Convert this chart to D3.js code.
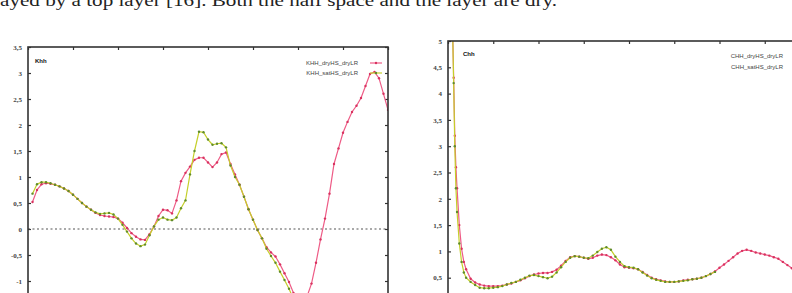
<!DOCTYPE html>
<html>
<head>
<meta charset="utf-8">
<script src="https://cdn.jsdelivr.net/npm/d3@7"></script>
<style>
  html, body { margin: 0; padding: 0; background: #fff; overflow: hidden; }
  svg { display: block; }
</style>
</head>
<body>
<script>
// frequency steps (Hz) for the Khh panel
const khhFreq = d3.range(1, 81);
const khhDry = [
  0.52, 0.75, 0.86, 0.88, 0.87, 0.85, 0.82, 0.78, 0.73, 0.66,
  0.58, 0.50, 0.43, 0.37, 0.31, 0.27, 0.25, 0.24, 0.23, 0.20,
  0.12, 0.02, -0.08, -0.15, -0.20, -0.21, -0.10, 0.05, 0.25, 0.37,
  0.36, 0.30, 0.55, 0.92, 1.08, 1.20, 1.33, 1.37, 1.37, 1.28,
  1.19, 1.28, 1.44, 1.47, 1.25, 1.05, 0.85, 0.62, 0.38, 0.18,
  -0.02, -0.18, -0.35, -0.45, -0.53, -0.68, -0.85, -1.02, -1.23, -1.40,
  -1.45, -1.30, -1.05, -0.65, -0.20, 0.20, 0.68, 1.25, 1.55, 1.85,
  2.06, 2.25, 2.37, 2.52, 2.75, 2.98, 3.02, 2.90, 2.60, 2.29
];
const khhSatFreq = d3.range(1, 61);
const khhSat = [
  0.68, 0.86, 0.90, 0.90, 0.88, 0.85, 0.82, 0.78, 0.73, 0.66,
  0.58, 0.50, 0.43, 0.37, 0.32, 0.29, 0.30, 0.31, 0.28, 0.20,
  0.08, -0.05, -0.18, -0.28, -0.33, -0.30, -0.12, 0.05, 0.18, 0.22,
  0.18, 0.17, 0.22, 0.40, 0.55, 1.05, 1.50, 1.87, 1.86, 1.72,
  1.62, 1.64, 1.65, 1.57, 1.22, 1.00, 0.85, 0.62, 0.38, 0.18,
  -0.02, -0.18, -0.38, -0.52, -0.65, -0.82, -0.98, -1.15, -1.35, -1.60
];

// frequency steps (Hz) for the Chh panel
const chhFreq = [1, 1.25, 1.5, 1.75, 2, 2.5, 3, 3.5].concat(d3.range(4, 81));
const chhDry = [
  5.3, 4.3, 3.2, 2.6, 2.2, 1.5, 1.05, 0.80,
  0.66, 0.48, 0.41, 0.37, 0.35, 0.34, 0.34, 0.34, 0.35, 0.37,
  0.39, 0.42, 0.45, 0.49, 0.53, 0.56, 0.58, 0.59, 0.59, 0.61,
  0.65, 0.73, 0.82, 0.89, 0.91, 0.90, 0.88, 0.86, 0.88, 0.92,
  0.94, 0.93, 0.89, 0.83, 0.75, 0.70, 0.69, 0.68, 0.66, 0.61,
  0.55, 0.50, 0.47, 0.45, 0.43, 0.42, 0.42, 0.43, 0.45, 0.46,
  0.47, 0.48, 0.50, 0.53, 0.57, 0.62, 0.69, 0.75, 0.82, 0.89,
  0.96, 1.01, 1.03, 1.01, 0.98, 0.96, 0.94, 0.92, 0.89, 0.86,
  0.80, 0.74, 0.68, 0.62, 0.56, 0.50, 0.45
];
const chhSatFreq = [1, 1.25, 1.5, 1.75, 2, 2.5, 3, 3.5].concat(d3.range(4, 60));
const chhSat = [
  5.3, 4.2, 3.0, 2.2, 1.75, 1.15, 0.80, 0.60,
  0.50, 0.42, 0.36, 0.31, 0.30, 0.30, 0.31, 0.32, 0.34, 0.37,
  0.40, 0.42, 0.46, 0.50, 0.54, 0.55, 0.53, 0.51, 0.49, 0.52,
  0.60, 0.70, 0.80, 0.88, 0.91, 0.90, 0.88, 0.87, 0.92, 0.99,
  1.05, 1.08, 1.03, 0.90, 0.80, 0.72, 0.70, 0.69, 0.66, 0.60,
  0.54, 0.49, 0.46, 0.44, 0.42, 0.42, 0.42, 0.43, 0.44, 0.45,
  0.47, 0.48, 0.50, 0.53, 0.57, 0.61
];

// only the tick labels that are visible in the cropped figure
const khhTicks = [-1, -0.5, 0, 0.5, 1, 1.5, 2, 2.5, 3, 3.5];
const chhTicks = [0.5, 1, 1.5, 2, 2.5, 3, 3.5, 4, 4.5, 5];
const freqTicks = d3.range(0, 81, 10);

const redLine = '#ee5b86';
const redDot = '#d8325f';
const greenLine = '#c4cf2a';
const greenDot = '#5f8b2c';

const width = 792;
const height = 293;

const svg = d3.select('body').append('svg')
  .attr('width', width)
  .attr('height', height);

// bit of caption text cut off at the top of the page
svg.append('text')
  .attr('x', 0)
  .attr('y', 6)
  .attr('textLength', 557)
  .attr('lengthAdjust', 'spacingAndGlyphs')
  .style('font-family', '"Liberation Serif", "DejaVu Serif", serif')
  .style('font-size', '17px')
  .attr('fill', '#222')
  .text('ayed by a top layer [16]. Both the half space and the layer are dry.');

const comma = d3.formatLocale({ decimal: ',', thousands: '.', grouping: [3], currency: ['', ''], minus: '-' });
const fmt = comma.format('~g');

function panel(opts) {
  const x = d3.scaleLinear().domain([0, 80]).range([opts.left, opts.right]);
  const y = d3.scaleLinear().domain(opts.yDomain).range([opts.bottom, opts.top]);
  const g = svg.append('g');

  const clipId = 'clip-' + opts.name;
  g.append('clipPath').attr('id', clipId)
    .append('rect')
    .attr('x', opts.left).attr('y', opts.top)
    .attr('width', opts.right - opts.left).attr('height', opts.bottom - opts.top);

  // y axis, ticks pointing inward
  const ay = g.append('g')
    .attr('transform', `translate(${opts.left},0)`)
    .call(d3.axisLeft(y).tickValues(opts.yTicks).tickSize(-3).tickPadding(6).tickFormat(fmt));
  ay.select('.domain').remove();
  ay.selectAll('line').attr('stroke', '#333').attr('stroke-width', 1.2);
  ay.selectAll('text')
    .style('font-family', '"Liberation Serif", serif')
    .style('font-size', '7px')
    .style('font-weight', 'bold')
    .attr('fill', '#444');

  const ayr = g.append('g')
    .attr('transform', `translate(${opts.right},0)`)
    .call(d3.axisRight(y).tickValues(opts.yTicks).tickSize(-3).tickFormat(''));
  ayr.select('.domain').remove();
  ayr.selectAll('line').attr('stroke', '#333').attr('stroke-width', 1.2);

  const ax = g.append('g')
    .attr('transform', `translate(0,${opts.top})`)
    .call(d3.axisTop(x).tickValues(freqTicks).tickSize(-3).tickFormat(''));
  ax.select('.domain').remove();
  ax.selectAll('line').attr('stroke', '#333').attr('stroke-width', 1.2);

  const plot = g.append('g').attr('clip-path', `url(#${clipId})`);

  if (opts.zeroLine) {
    plot.append('line')
      .attr('x1', opts.left).attr('x2', opts.right)
      .attr('y1', y(0)).attr('y2', y(0))
      .attr('stroke', '#555')
      .attr('stroke-width', 1.2)
      .attr('stroke-dasharray', '2,2.5');
  }

  const line = d3.line().x(d => x(d[0])).y(d => y(d[1]));

  opts.series.forEach(s => {
    const pts = d3.zip(s.freq, s.values);
    plot.append('path')
      .datum(pts)
      .attr('fill', 'none')
      .attr('stroke', s.line)
      .attr('stroke-width', 1.2)
      .attr('d', line);
    plot.selectAll(null)
      .data(pts)
      .enter()
      .append('circle')
      .attr('cx', d => x(d[0]))
      .attr('cy', d => y(d[1]))
      .attr('r', 1.2)
      .attr('fill', s.dot);
  });

  // frame
  g.append('rect')
    .attr('x', opts.left).attr('y', opts.top)
    .attr('width', opts.right - opts.left).attr('height', opts.bottom - opts.top)
    .attr('fill', 'none')
    .attr('stroke', '#333')
    .attr('stroke-width', 1.6);

  g.append('text')
    .attr('x', opts.left + opts.titleDx)
    .attr('y', opts.top + opts.titleDy)
    .style('font-family', '"Liberation Sans", Arial, sans-serif')
    .style('font-size', '6px')
    .style('font-weight', 'bold')
    .attr('fill', '#111')
    .text(opts.name);

  // legend, right aligned text + sample
  opts.series.forEach((s, i) => {
    const ly = opts.legendY + i * opts.legendGap;
    g.append('text')
      .attr('x', opts.legendX)
      .attr('y', ly + 2)
      .attr('text-anchor', 'end')
      .style('font-family', '"Liberation Sans", Arial, sans-serif')
      .style('font-size', '6px')
      .attr('fill', '#444')
      .text(s.label);
    g.append('line')
      .attr('x1', opts.legendX + 12).attr('x2', opts.legendX + 24)
      .attr('y1', ly).attr('y2', ly)
      .attr('stroke', s.line).attr('stroke-width', 1.2);
    g.append('circle')
      .attr('cx', opts.legendX + 18).attr('cy', ly).attr('r', 1.2)
      .attr('fill', s.dot);
  });
}

panel({
  name: 'Khh',
  left: 28, right: 388, top: 47, bottom: 307,
  yDomain: [-1.5, 3.5],
  yTicks: khhTicks,
  zeroLine: true,
  titleDx: 7, titleDy: 16,
  legendX: 358, legendY: 63, legendGap: 10,
  series: [
    { label: 'KHH_dryHS_dryLR', freq: khhFreq, values: khhDry, line: redLine, dot: redDot },
    { label: 'KHH_satHS_dryLR', freq: khhSatFreq, values: khhSat, line: greenLine, dot: greenDot }
  ]
});

panel({
  name: 'Chh',
  left: 448, right: 810, top: 41, bottom: 304,
  yDomain: [0, 5],
  yTicks: chhTicks,
  zeroLine: false,
  titleDx: 15, titleDy: 15,
  legendX: 783, legendY: 56, legendGap: 11,
  series: [
    { label: 'CHH_dryHS_dryLR', freq: chhFreq, values: chhDry, line: redLine, dot: redDot },
    { label: 'CHH_satHS_dryLR', freq: chhSatFreq, values: chhSat, line: greenLine, dot: greenDot }
  ]
});
</script>
</body>
</html>
